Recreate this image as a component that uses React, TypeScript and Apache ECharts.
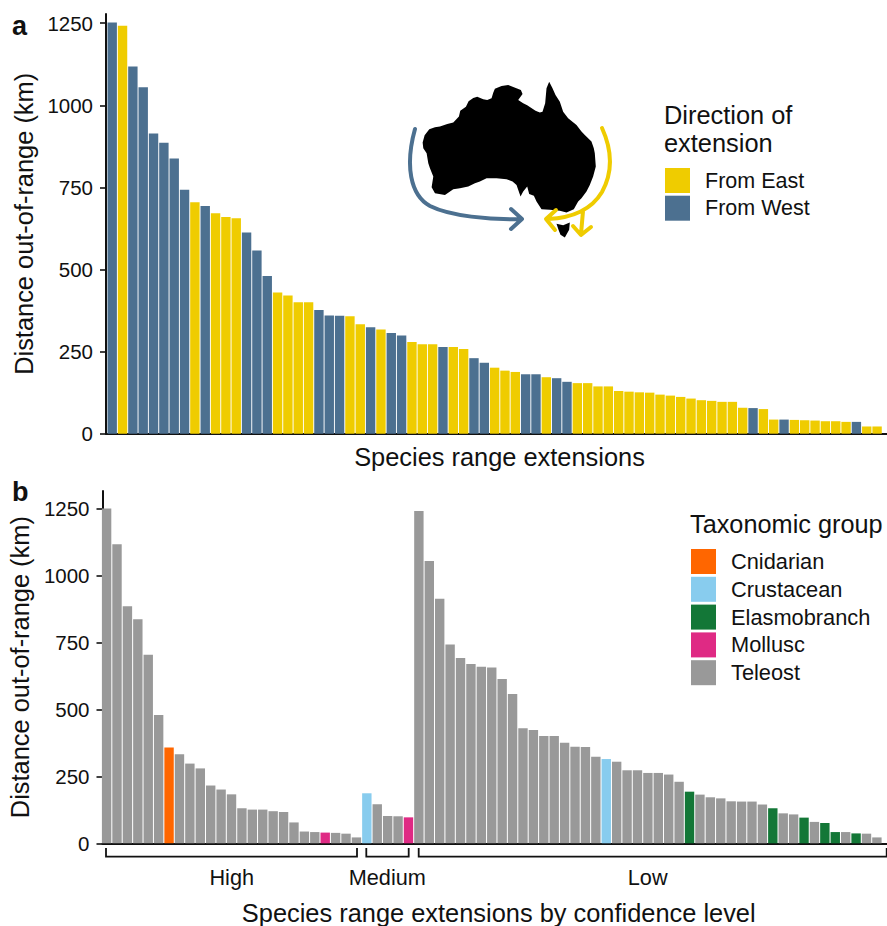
import React, { useEffect, useRef } from "react";
import * as echarts from "echarts";

const FONT = '"Liberation Sans", Arial, sans-serif';
const INK = "#111111";

const yTicks = [0, 250, 500, 750, 1000, 1250];

const distancesA = [
  1252, 1242, 1118, 1055, 914, 886, 838, 743, 705, 693, 671, 660, 656, 613, 558, 480, 430, 421, 400, 400,
  377, 360, 359, 358, 333, 324, 317, 307, 299, 279, 272, 272, 264, 264, 258, 230, 216, 201, 192, 188,
  181, 181, 172, 169, 158, 154, 154, 144, 144, 130, 128, 126, 125, 119, 116, 112, 107, 102, 100, 97,
  97, 79, 78, 75, 43, 43, 42, 41, 40, 38, 38, 36, 36, 22, 22,
];
const directionsA = [
  "W", "E", "W", "W", "W", "W", "W", "W", "E", "W", "E", "E", "E", "W", "W", "W", "E", "E", "E", "E",
  "W", "W", "W", "E", "E", "W", "E", "W", "W", "E", "E", "E", "W", "E", "E", "W", "W", "E", "E", "E",
  "W", "W", "E", "W", "W", "E", "E", "E", "E", "E", "E", "E", "E", "E", "E", "E", "E", "E", "E", "E",
  "E", "E", "W", "E", "E", "W", "E", "E", "E", "E", "E", "E", "W", "E", "E",
];
const directionNames: Record<string, string> = { E: "From East", W: "From West" };
const directionColors: Record<string, string> = { E: "#EFCC00", W: "#4C7090" };

const distancesB = [
  1252, 1118, 886, 838, 705, 480, 358, 333, 298, 280, 216, 201, 183, 131, 126, 126, 120, 117, 78, 44,
  42, 40, 39, 36, 22,
  187, 146, 102, 101, 97,
  1242, 1055, 914, 743, 693, 670, 660, 657, 614, 558, 430, 424, 401, 401, 376, 361, 360, 324, 315, 305,
  273, 273, 263, 263, 257, 230, 193, 182, 172, 168, 157, 156, 156, 145, 131, 112, 108, 96, 80, 76,
  42, 42, 37, 36, 22,
];
const groupsB: Record<number, string> = {
  7: "Cnidarian", 22: "Mollusc", 26: "Crustacean", 30: "Mollusc", 49: "Crustacean",
  57: "Elasmobranch", 65: "Elasmobranch", 68: "Elasmobranch", 70: "Elasmobranch", 71: "Elasmobranch", 73: "Elasmobranch",
};
const groupNames = ["Cnidarian", "Crustacean", "Elasmobranch", "Mollusc", "Teleost"];
const groupColors = ["#FF6600", "#88CCEE", "#137737", "#DF2A84", "#999999"];

const confidenceLabels = ["High", "Medium", "Low"];

// inset map, traced at 3x around (390, 70)
const mainland = [
  [98, 218], [104, 196], [118, 178], [135, 172], [150, 170], [172, 162], [190, 158], [200, 147], [207, 140], [211, 122], [228, 110], [236, 94],
  [250, 84], [262, 80], [280, 88], [292, 90], [305, 85], [310, 68], [315, 56], [335, 48], [355, 45], [372, 52], [393, 60], [398, 72], [385, 90],
  [400, 100], [412, 106], [437, 122], [450, 128], [458, 125], [466, 100], [470, 55], [478, 35], [488, 55], [497, 75], [510, 95], [520, 125], [535, 145],
  [560, 165], [575, 185], [585, 195], [605, 215], [612, 235], [615, 250], [618, 290], [610, 320], [600, 345], [590, 365], [575, 385], [565, 395], [552, 418],
  [530, 428], [510, 423], [480, 420], [455, 418], [440, 395], [432, 378], [418, 372], [412, 350], [400, 365], [392, 380], [380, 345], [368, 335], [350, 328],
  [320, 325], [290, 325], [270, 335], [255, 340], [235, 350], [210, 355], [190, 358], [165, 375], [135, 370], [125, 352], [130, 320], [120, 295], [115, 280], [110, 250], [100, 235],
];
const tasmania = [[500, 462], [520, 466], [540, 458], [538, 480], [525, 503], [512, 495], [506, 480]];

echarts.graphic.registerShape(
  "blueArrow",
  echarts.graphic.extendPath("M415 129 C405 165 410 195 430 206 C450 216 490 220 521 219 M511 209 L522 219 L511 229", {})
);
echarts.graphic.registerShape(
  "yellowArrow",
  echarts.graphic.extendPath(
    "M602 128 C612 150 613 172 602 192 C590 212 570 218 548 219 M556 210 L546 219 L555 230 M583 211 L581 234 M573 226 L581 235 L591 227",
    {}
  )
);

const BAR_W = 9.4;

function barSeries(name: string, color: string, values: number[], keep: (i: number) => boolean, xAxisIndex: number) {
  return {
    name,
    type: "bar",
    xAxisIndex,
    yAxisIndex: xAxisIndex,
    barWidth: BAR_W,
    barGap: "-100%",
    itemStyle: { color },
    silent: true,
    data: values.map((v, i) => [i + 1, v]).filter((_, i) => keep(i)),
  };
}

function axes(gridIndex: number, xMin: number, xMax: number, yMax: number, xName: string, namePad: number, yGap: number, xGap: number) {
  return {
    x: {
      gridIndex,
      type: "value",
      min: xMin,
      max: xMax,
      splitLine: { show: false },
      axisLabel: { show: false },
      axisTick: { show: false },
      axisLine: { show: true, onZero: false, lineStyle: { color: INK, width: 2 } },
      name: xName,
      nameLocation: "middle",
      nameGap: xGap,
      nameTextStyle: { fontFamily: FONT, fontSize: 25.4, color: INK, padding: [0, 0, 0, namePad] },
    },
    y: {
      gridIndex,
      type: "value",
      min: 0,
      max: yMax,
      splitLine: { show: false },
      axisLine: { show: true, onZero: false, lineStyle: { color: INK, width: 2 } },
      axisTick: { show: true, length: 6, customValues: yTicks, lineStyle: { color: INK, width: 1.6 } },
      axisLabel: { show: true, customValues: yTicks, formatter: (v: number) => String(v), margin: 13, fontFamily: FONT, fontSize: 20.5, color: INK },
      name: "Distance out-of-range (km)",
      nameLocation: "middle",
      nameGap: yGap,
      nameTextStyle: { fontFamily: FONT, fontSize: 25.4, color: INK },
    },
  };
}

function label(text: string, x: number, y: number, fontSize: number, extra: object = {}) {
  return {
    type: "text",
    x,
    y,
    silent: true,
    style: { text, fontFamily: FONT, fontSize, fill: INK, textVerticalAlign: "middle", ...extra },
  };
}

function bracket(x1: number, x2: number) {
  return {
    type: "polyline",
    silent: true,
    shape: { points: [[x1, 848], [x1, 856.7], [x2, 856.7], [x2, 848]] },
    style: { stroke: INK, lineWidth: 1.8, fill: "none" },
  };
}

export default function App() {
  const ref = useRef<HTMLDivElement>(null);
  useEffect(() => {
    document.body.style.margin = "0";
    const chart = echarts.init(ref.current!, null, { renderer: "svg" });
    const a = axes(0, 0.4, 75.96, 1278, "Species range extensions", 6, 62, 11);
    const b = axes(1, 0.606, 75.97, 1317, "Species range extensions by confidence level", 8, 65, 57);
    chart.setOption({
      animation: false,
      backgroundColor: "#ffffff",
      grid: [
        { left: 106, top: 14, width: 781, height: 419.7, containLabel: false, outerBoundsMode: "none" },
        { left: 102.5, top: 491, width: 784.5, height: 352.3, containLabel: false, outerBoundsMode: "none" },
      ],
      xAxis: [a.x, b.x],
      yAxis: [a.y, b.y],
      legend: [
        {
          left: 665, top: 168, orient: "vertical", itemWidth: 25, itemHeight: 25, itemGap: 2.7, icon: "rect",
          selectedMode: false, padding: 0,
          data: ["From East", "From West"],
          textStyle: { fontFamily: FONT, fontSize: 21.5, color: INK, padding: [2, 0, 0, 10] },
        },
        {
          left: 691, top: 549, orient: "vertical", itemWidth: 25, itemHeight: 25, itemGap: 2.8, icon: "rect",
          selectedMode: false, padding: 0,
          data: groupNames,
          textStyle: { fontFamily: FONT, fontSize: 21.8, color: INK, padding: [2, 0, 0, 10] },
        },
      ],
      series: [
        ...["E", "W"].map((d) =>
          barSeries(directionNames[d], directionColors[d], distancesA, (i) => directionsA[i] === d, 0)
        ),
        ...groupNames.map((g, k) =>
          barSeries(g, groupColors[k], distancesB, (i) => (groupsB[i + 1] ?? "Teleost") === g, 1)
        ),
      ],
      graphic: [
        label("a", 12, 26, 27, { fontWeight: "bold" }),
        label("b", 12, 492, 27, { fontWeight: "bold" }),
        label("Direction of", 664, 115, 25.4),
        label("extension", 664, 143, 25.4),
        label("Taxonomic group", 690, 524, 25.3),
        bracket(106, 357),
        bracket(366.3, 408.7),
        bracket(418.7, 886.7),
        label(confidenceLabels[0], 231.7, 877, 21.7, { textAlign: "center" }),
        label(confidenceLabels[1], 387.3, 877, 21.7, { textAlign: "center" }),
        label(confidenceLabels[2], 647.7, 877, 21.7, { textAlign: "center" }),
        {
          type: "group",
          x: 390,
          y: 70,
          scaleX: 1 / 3,
          scaleY: 1 / 3,
          silent: true,
          children: [
            { type: "polygon", shape: { points: mainland }, style: { fill: "#000000" } },
            { type: "polygon", shape: { points: tasmania }, style: { fill: "#000000" } },
          ],
        },
        { type: "blueArrow", silent: true, style: { fill: "none", stroke: "#4C7090", lineWidth: 4, lineCap: "round", lineJoin: "round" } },
        { type: "yellowArrow", silent: true, style: { fill: "none", stroke: "#EFCC00", lineWidth: 4, lineCap: "round", lineJoin: "round" } },
      ],
    });
    return () => chart.dispose();
  }, []);
  return <div ref={ref} style={{ width: 887, height: 926 }} />;
}
